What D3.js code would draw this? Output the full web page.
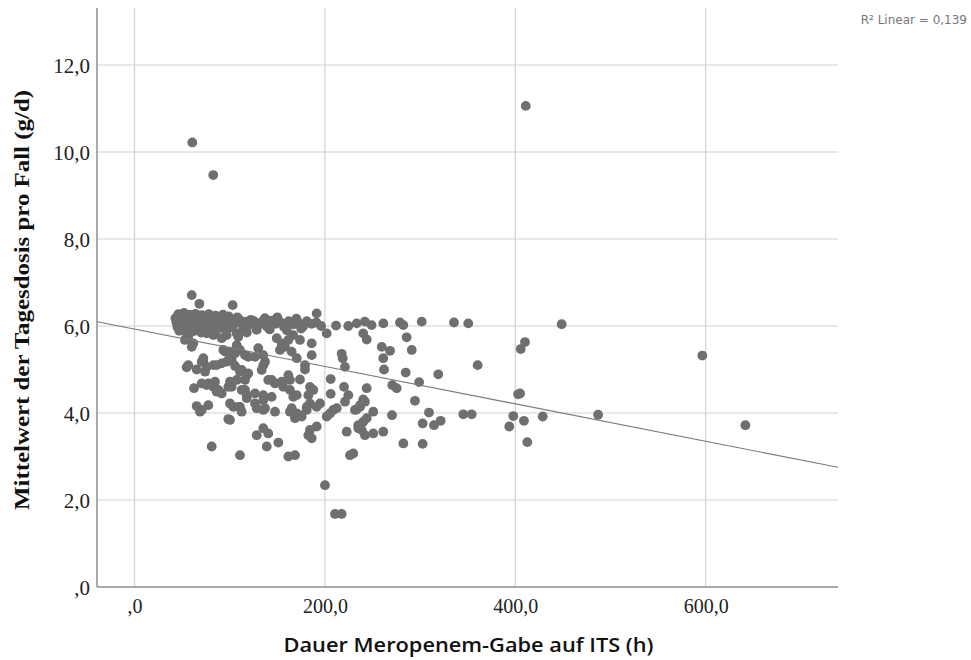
<!DOCTYPE html>
<html>
<head>
<meta charset="utf-8">
<script src="https://cdn.jsdelivr.net/npm/d3@7/dist/d3.min.js"></script>
<style>
  html, body { margin: 0; padding: 0; background: #fff; }
  svg { display: block; }
</style>
</head>
<body>
<svg id="chart" width="971" height="660"></svg>
<script>
// Duration of meropenem therapy on ICU (hours) and mean daily dose per case (g/d)
const durationH = [
  60.7, 82.7, 411, 596.5, 641.7, 487,
  301.7, 335.6, 350.6, 448.7, 410.2, 405.7, 360.5, 319.1, 299, 405, 403,
  309.3, 345.4, 354.2, 397.9, 428.8, 302.7, 314.6, 321.6, 409.1, 393.7, 302.7, 412.6,
  103.1, 191.4, 211.7, 224.6, 233.4, 242, 249, 261.4, 278.9, 282.4,
  201.9, 240.3, 243.9, 285.9, 259.7, 268.4, 261.3, 291.2, 217.6, 218.7, 221.1, 262.1, 284.9,
  206.1, 220.1, 243.9, 270.8, 275.4, 206.1, 224.6, 221.1, 240.3, 236.9, 233.4, 294.6,
  250.8, 270.5, 205.4, 208.8, 212.4,
  107.4, 109, 100.3, 105.6, 128.4, 130, 126.6, 119.5, 116.1, 135.3,
  149.4, 154.6, 161.6, 158.1, 152.8, 165.1, 170.4, 173.8, 166.8, 186.1, 186.1, 179.1, 179.1,
  102.1, 105.6, 112.6, 119.5, 107.4, 102.1, 135.3, 133.6, 137.1,
  140.5, 147.6, 154.6, 161.6, 163.3, 173.8, 156.3, 144.1,
  116.1, 126.6, 135.3, 144.1, 117.9, 109, 126.6,
  163.3, 166.8, 170.4, 184.3, 187.8, 182.6, 194.9, 191.4,
  147.6, 135.3, 165.1, 168.6, 175.6, 180.9, 191.4, 135.3,
  100.3, 110.8, 112.6, 128.4, 137.1, 135.3, 163.3, 170.4, 180.9, 184.3, 173.8, 168.6,
  201.9, 231.6, 236.9, 242.1, 100.3, 128.4, 140.5, 138.9, 151.1, 110.8, 161.6, 168.6,
  184.3, 182.6, 186.1, 200.1, 210.6, 217.6, 222.9, 226.4, 229.8,
  235.1, 240.3, 238.7, 242.1, 235.1, 243.9, 250.8, 261.3, 282.4,
  60.1, 68.1, 53, 61.8, 56.5, 75.8, 82.8, 91.6, 96.8, 93.3, 107.4,
  54.8, 65.3, 72.3, 75.8, 82.8, 91.6, 96.8,
  62.5, 70.6, 75.8, 82.8, 86.3, 91.6, 98.5,
  65.3, 70.6, 77.5, 103.8, 98.5, 81.1, 60.1, 110.8, 72.3,
  110.8, 117.9, 116.1, 88, 100.3, 112.6, 117.9, 68.8,
  95.1, 100.3, 105.6, 56.5, 70.6, 74.1, 86.3, 77.5, 84.6,
  46, 52, 58, 64, 71, 78, 85, 93, 99, 108,
  43, 49, 55, 61, 67, 74, 81, 88, 95, 102, 110, 117, 122,
  44, 50, 56, 62, 69, 76, 83, 90, 97, 104, 112, 119,
  45, 51, 58, 65, 72, 79, 86, 93, 100, 114,
  47, 54, 62, 70, 85, 118,
  125, 130, 134, 139, 144, 148, 153, 157, 162, 167, 172, 177, 181, 186, 191, 196,
  128, 142, 160, 175, 137, 150, 170
];
const doseGD = [
  10.22, 9.47, 11.06, 5.32, 3.72, 3.96,
  6.10, 6.08, 6.06, 6.04, 5.63, 5.47, 5.10, 4.89, 4.71, 4.45, 4.43,
  4.01, 3.97, 3.97, 3.93, 3.92, 3.76, 3.72, 3.82, 3.82, 3.69, 3.29, 3.33,
  6.48, 6.29, 6.01, 6.00, 6.06, 6.10, 6.02, 6.06, 6.08, 6.02,
  5.83, 5.83, 5.69, 5.74, 5.52, 5.43, 5.26, 5.45, 5.36, 5.26, 5.06, 5.00, 4.93,
  4.78, 4.60, 4.57, 4.64, 4.57, 4.44, 4.41, 4.26, 4.31, 4.18, 4.08, 4.28,
  4.03, 3.95, 3.99, 4.07, 4.11,
  5.83, 5.75, 5.41, 5.41, 5.91, 5.49, 5.29, 5.29, 5.33, 5.33,
  5.72, 5.60, 5.68, 5.52, 5.45, 5.41, 5.26, 5.68, 5.79, 5.60, 5.33, 5.10, 5.00,
  5.22, 5.08, 4.99, 4.91, 4.76, 4.60, 5.10, 4.99, 5.18,
  4.76, 4.68, 4.72, 4.87, 4.76, 4.77, 4.60, 4.76,
  4.53, 4.45, 4.41, 4.37, 4.34, 4.14, 4.22,
  4.53, 4.37, 4.41, 4.60, 4.53, 4.41, 4.22, 4.14,
  4.03, 4.07, 4.11, 3.95, 3.92, 4.07, 3.69, 3.65,
  4.22, 4.14, 4.03, 4.11, 4.11, 4.30, 4.03, 3.99, 4.14, 4.22, 3.95, 3.88,
  3.92, 4.07, 4.14, 4.26, 3.84, 3.49, 3.53, 3.23, 3.32, 3.03, 3.00, 3.03,
  3.61, 3.49, 3.42, 2.34, 1.68, 1.68, 3.57, 3.03, 3.07,
  3.72, 3.80, 3.61, 3.49, 3.65, 3.88, 3.53, 3.57, 3.30,
  6.71, 6.51, 5.68, 5.60, 5.75, 5.83, 5.79, 5.72, 5.79, 5.45, 5.56,
  5.05, 5.00, 5.18, 5.06, 5.10, 5.14, 5.18,
  4.57, 4.68, 4.64, 4.60, 4.49, 4.45, 4.60,
  4.16, 4.07, 4.18, 4.14, 3.86, 3.23, 5.52, 5.45, 5.26,
  4.95, 4.87, 4.76, 4.53, 4.72, 4.53, 4.41, 4.03,
  5.41, 5.33, 5.37, 5.10, 5.18, 4.95, 5.10, 4.68, 4.72,
  6.27, 6.30, 6.26, 6.28, 6.25, 6.27, 6.24, 6.26, 6.22, 6.20,
  6.18, 6.16, 6.19, 6.15, 6.18, 6.14, 6.17, 6.13, 6.16, 6.12, 6.15, 6.10, 6.14,
  6.08, 6.05, 6.09, 6.04, 6.07, 6.03, 6.08, 6.04, 6.07, 6.02, 6.06, 6.01,
  5.98, 5.95, 5.99, 5.94, 5.97, 5.93, 5.98, 5.95, 5.96, 5.92,
  5.89, 5.86, 5.88, 5.85, 5.87, 5.85,
  6.12, 6.03, 6.10, 5.99, 6.12, 6.05, 6.09, 5.98, 6.11, 6.04, 6.08, 5.99, 6.11, 6.05, 6.08, 6.00,
  5.95, 5.92, 5.90, 5.94, 6.18, 6.20, 6.17
];

const xTicks = [0, 200, 400, 600];
const yTicks = [0, 2, 4, 6, 8, 10, 12];

// Linear fit (dose = intercept + slope * duration)
const fitIntercept = 5.93;
const fitSlope = -0.0043;
const fitLabel = "R\u00B2 Linear = 0,139";

const xTitle = "Dauer Meropenem-Gabe auf ITS (h)";
const yTitle = "Mittelwert der Tagesdosis pro Fall (g/d)";

const points = durationH.map((d, i) => ({ x: d, y: doseGD[i] }));

const svg = d3.select("#chart");
const plotL = 97, plotR = 838, plotT = 8, plotB = 587;

const x = d3.scaleLinear().domain([-39.4, 739]).range([plotL, plotR]);
const y = d3.scaleLinear().domain([0, 13.31]).range([plotB, plotT]);

// German-style decimal labels: ",0", "200,0"
const fmt = v => {
  const s = d3.format(".1f")(v).replace(".", ",");
  return s.startsWith("0,") ? s.slice(1) : s;
};

// Grid lines
const grid = svg.append("g").attr("stroke", "#d2d2d2").attr("stroke-width", 1.2);
grid.selectAll("line.h").data(yTicks.filter(t => t > 0)).join("line")
  .attr("class", "h")
  .attr("x1", plotL).attr("x2", plotR)
  .attr("y1", d => y(d)).attr("y2", d => y(d));
grid.selectAll("line.v").data(xTicks).join("line")
  .attr("class", "v")
  .attr("y1", plotT).attr("y2", plotB)
  .attr("x1", d => x(d)).attr("x2", d => x(d));

// Axes via d3-axis, restyled
const yAxis = svg.append("g").attr("transform", `translate(${plotL},0)`)
  .call(d3.axisLeft(y).tickValues(yTicks).tickFormat(fmt).tickSize(0).tickPadding(7));
const xAxis = svg.append("g").attr("transform", `translate(0,${plotB})`)
  .call(d3.axisBottom(x).tickValues(xTicks).tickFormat(fmt).tickSize(0).tickPadding(8));
[yAxis, xAxis].forEach(g => {
  g.select(".domain").remove();
  g.selectAll("text")
    .attr("font-family", "'Liberation Serif', 'Times New Roman', serif")
    .attr("fill", "#222");
});
yAxis.selectAll("text").attr("font-size", 21).attr("dy", "0.35em");
xAxis.selectAll("text").attr("font-size", 20).attr("dy", "0.9em");

// Axis lines
svg.append("line").attr("x1", plotL).attr("x2", plotL).attr("y1", plotT).attr("y2", plotB)
  .attr("stroke", "#8c8c8c").attr("stroke-width", 1.5);
svg.append("line").attr("x1", plotL).attr("x2", plotR).attr("y1", plotB).attr("y2", plotB)
  .attr("stroke", "#8c8c8c").attr("stroke-width", 1.5);

// Scatter points
const clipId = "plotClip";
svg.append("clipPath").attr("id", clipId).append("rect")
  .attr("x", plotL).attr("y", plotT).attr("width", plotR - plotL).attr("height", plotB - plotT);

svg.append("g").selectAll("circle").data(points).join("circle")
  .attr("cx", d => x(d.x)).attr("cy", d => y(d.y)).attr("r", 4.9)
  .attr("fill", "#6f6f6f");

// Fit line across the full x-domain
const [x0, x1] = x.domain();
svg.append("line")
  .attr("clip-path", `url(#${clipId})`)
  .attr("x1", x(x0)).attr("y1", y(fitIntercept + fitSlope * x0))
  .attr("x2", x(x1)).attr("y2", y(fitIntercept + fitSlope * x1))
  .attr("stroke", "#7a7a7a").attr("stroke-width", 1.1);

// Fit annotation
svg.append("text").attr("x", 967).attr("y", 24).attr("text-anchor", "end")
  .attr("font-family", "'DejaVu Sans', 'Open Sans', sans-serif").attr("font-size", 12)
  .attr("fill", "#777").text(fitLabel);

// Axis titles
svg.append("text")
  .attr("transform", `translate(29,${(90 + 510) / 2}) rotate(-90)`)
  .attr("text-anchor", "middle")
  .attr("font-family", "'Liberation Serif', 'Times New Roman', serif")
  .attr("font-weight", "bold").attr("font-size", 21).attr("fill", "#111")
  .attr("textLength", 420).attr("lengthAdjust", "spacingAndGlyphs")
  .text(yTitle);

svg.append("text")
  .attr("x", (plotL + plotR) / 2 + 1).attr("y", 652)
  .attr("text-anchor", "middle")
  .attr("font-family", "'Open Sans', 'DejaVu Sans', sans-serif")
  .attr("font-weight", 600).attr("font-size", 19).attr("fill", "#111")
  .attr("textLength", 370).attr("lengthAdjust", "spacingAndGlyphs")
  .text(xTitle);
</script>
</body>
</html>
